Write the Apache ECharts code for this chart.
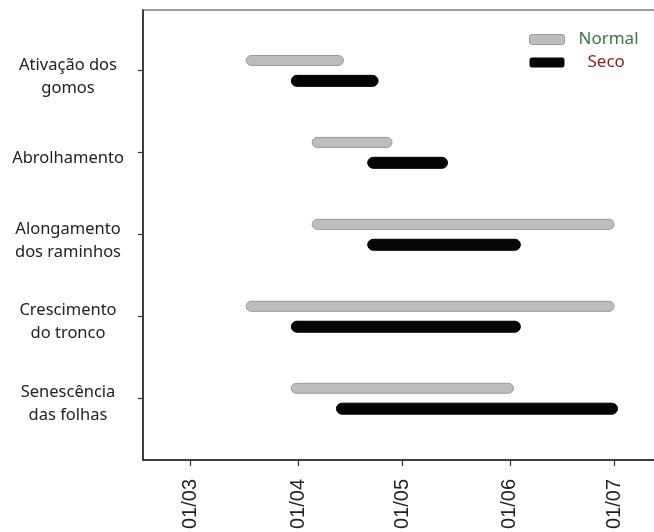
<!DOCTYPE html>
<html>
<head>
<meta charset="utf-8">
<script src="https://cdn.jsdelivr.net/npm/echarts@6/dist/echarts.min.js"></script>
<style>html,body{margin:0;padding:0;background:#fff;overflow:hidden;width:654px;height:532px}#c{width:680px;height:532px}</style>
</head>
<body>
<div id="c"></div>
<script>
const categories = ['Ativação dos\ngomos', 'Abrolhamento', 'Alongamento\ndos raminhos', 'Crescimento\ndo tronco', 'Senescência\ndas folhas'];
const normalStart = ['2021-03-17', '2021-04-05', '2021-04-05', '2021-03-17', '2021-03-30'];
const normalEnd   = ['2021-04-14', '2021-04-28', '2021-07-01', '2021-07-01', '2021-06-02'];
const secoStart   = ['2021-03-30', '2021-04-21', '2021-04-21', '2021-03-30', '2021-04-12'];
const secoEnd     = ['2021-04-24', '2021-05-14', '2021-06-04', '2021-06-04', '2021-07-02'];
const tickDates   = ['2021-03-01', '2021-04-01', '2021-05-01', '2021-06-01', '2021-07-01'];
const tickLabels  = ['01/03', '01/04', '01/05', '01/06', '01/07'];
const seriesNames = ['Normal', 'Seco'];

const origin = Date.UTC(2021, 2, 1);
function day(s) { const p = s.split('-').map(Number); return (Date.UTC(p[0], p[1] - 1, p[2]) - origin) / 86400000; }
const tickDays = tickDates.map(day);
const catIdx = categories.map((c, i) => i + 1);
// labels sit slightly below their tick, as in the original figure
const labelPos = catIdx.map(v => v + 0.07);

function build(starts, ends) { return categories.map((c, i) => [day(starts[i]), day(ends[i]), i + 1]); }

function makeRender(offset, h, fill, stroke) {
  return function (params, api) {
    const s = api.value(0), e = api.value(1), c = api.value(2);
    const p1 = api.coord([s, c]);
    const p2 = api.coord([e, c]);
    const y = p1[1] + offset;
    return {
      type: 'rect',
      shape: { x: p1[0], y: y - h / 2, width: p2[0] - p1[0], height: h, r: h / 2 },
      style: { fill: fill, stroke: stroke, lineWidth: 1 }
    };
  };
}

const chart = echarts.init(document.getElementById('c'), null, { renderer: 'canvas' });
chart.setOption({
  animation: false,
  backgroundColor: '#fff',
  grid: { left: 143, top: 10, width: 520, height: 452, show: true, borderColor: '#777', borderWidth: 1.5, backgroundColor: 'transparent' },
  legend: {
    orient: 'vertical', left: 529, top: 31, itemGap: 6, padding: 0,
    itemWidth: 35, itemHeight: 10, icon: 'roundRect',
    textStyle: { fontFamily: 'Noto Sans', fontSize: 17 },
    data: [
      { name: seriesNames[0], textStyle: { color: '#2e7d3f', padding: [0, 0, 0, 9] }, itemStyle: { color: '#bdbdbd', borderColor: '#999', borderWidth: 1 } },
      { name: seriesNames[1], textStyle: { color: '#8e1c1c', padding: [6, 0, 0, 18] }, itemStyle: { color: '#050505', borderColor: '#000', borderWidth: 0 } }
    ]
  },
  xAxis: {
    type: 'value', min: -13.75, max: 136.1,
    splitLine: { show: false },
    axisLine: { show: true, onZero: false, lineStyle: { color: '#222', width: 1.5 } },
    axisTick: { show: true, customValues: tickDays, length: 6, lineStyle: { color: '#333', width: 1.2 } },
    axisLabel: {
      customValues: tickDays, rotate: 90, margin: 19,
      fontFamily: 'Liberation Sans', fontSize: 20, color: '#222',
      formatter: v => tickLabels[tickDays.indexOf(v)]
    }
  },
  yAxis: {
    type: 'value', min: 0.26, max: 5.75, inverse: true,
    splitLine: { show: false },
    axisLine: { show: true, onZero: false, lineStyle: { color: '#222', width: 1.5 } },
    axisTick: { show: true, customValues: catIdx, length: 5, lineStyle: { color: '#333', width: 1.2 } },
    axisLabel: {
      customValues: labelPos, margin: 75, align: 'center',
      fontFamily: 'Noto Sans', fontSize: 16.5, lineHeight: 23, color: '#222',
      formatter: v => categories[Math.round(v) - 1]
    }
  },
  series: [
    {
      name: seriesNames[0], type: 'custom',
      itemStyle: { color: '#bdbdbd', borderColor: '#999' },
      encode: { x: [0, 1], y: 2 },
      renderItem: makeRender(-10.2, 10, '#bdbdbd', '#9a9a9a'),
      data: build(normalStart, normalEnd)
    },
    {
      name: seriesNames[1], type: 'custom',
      itemStyle: { color: '#050505' },
      encode: { x: [0, 1], y: 2 },
      renderItem: makeRender(10.2, 11, '#050505', '#000'),
      data: build(secoStart, secoEnd)
    }
  ]
});
</script>
</body>
</html>
